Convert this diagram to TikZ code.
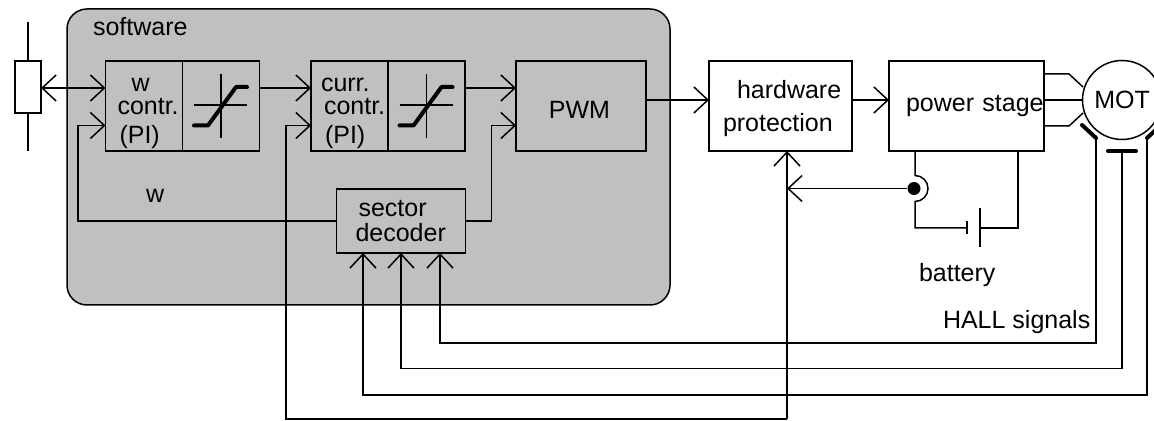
\documentclass[tikz,border=0pt]{standalone}
\usepackage{fontspec}
\setmainfont{Liberation Sans}
\usepackage{xcolor}
\usetikzlibrary{arrows.meta, positioning, calc}
\definecolor{softgrey}{RGB}{192, 192, 192}

\begin{document}
\begin{tikzpicture}[
    x=0.5pt, y=-0.5pt,
    line width=0.75pt,
    font=\fontsize{12.5}{12}\selectfont,
    box/.style={rectangle, draw, inner sep=0pt, outer sep=0pt, align=left},
    smallbox/.style={box, text width=38.5pt, minimum height=45pt},
    label/.style={inner sep=0pt, outer sep=0pt, anchor=base west},
    arrow/.style={->, >={Straight Barb[length=7pt,width=13pt]}},
    dblarrow/.style={<->, >={Straight Barb[length=7pt,width=13pt]}},
    thickbar/.style={line width=2pt, line cap=round, line join=round}
]
\useasboundingbox (0,0) rectangle (1154,421);

% Software area
\draw[fill=softgrey, rounded corners=10pt] (67,9) rectangle (670,305);
\node[label] (softlabel) at (93,36) {software};

% Potentiometer
\node[box, fill=white, minimum width=13pt, minimum height=26pt] (pot) at (28,87) {};
\coordinate (pottop) at (28,22);
\coordinate (potbot) at (28,151);
\draw (pottop) -- (pot.north);
\draw (pot.south) -- (potbot);

% Controllers
\node[smallbox] (wcontr) at (144,106) {\rule{0pt}{14pt}\hspace*{13pt}w\\[-0.5pt]\hspace*{6pt}contr.\\[2.5pt]\hspace*{7pt}(PI)};
\node[smallbox, right=0pt of wcontr] (satw) {};
\node[smallbox] (ccontr) at (349.5,106) {\rule{0pt}{14pt}\hspace*{5pt}curr.\\[-0.5pt]\hspace*{6.5pt}contr.\\[2.5pt]\hspace*{7pt}(PI)};
\node[smallbox, right=0pt of ccontr] (satc) {};
\node[box, minimum width=65pt, minimum height=45pt, align=center] (pwm) at (581,106) {\rule{0pt}{13pt}PWM\hspace*{1.5pt}};
\node[box, text width=64.5pt, minimum height=32pt] (sector) at (401,221) {\hspace*{11pt}sector\\[0.5pt]\hspace*{9.5pt}decoder};

% Saturation symbols
\foreach \sat in {satw,satc} {
    \begin{scope}[shift={(\sat.center)}]
        \draw (0,-32) -- (0,32);
        \draw (-27,-1) -- (26,-1);
        \draw[thickbar] (-27,19.5) -- (-13,19.5) -- (15,-19) -- (26,-19);
    \end{scope}
}

% Power side
\node[box, text width=71.5pt, minimum height=45pt] (hwprot) at (780.5,106) {\rule{0pt}{12pt}\hspace*{14pt}hardware\\[4.5pt]\hspace*{7pt}protection};
\node[box, text width=77.5pt, minimum height=45pt] (stage) at (966.5,106) {\hspace*{8.5pt}power stage};
\node[circle, draw, inner sep=0pt, outer sep=0pt, minimum size=39.5pt, align=center] (mot) at (1122,100) {MOT};

% Hall sensors
\coordinate (halla) at (1096,138);
\coordinate (hallb) at (1122,151);
\coordinate (hallc) at (1147,138);
\draw[thickbar] (1082,125) -- (halla);
\draw[thickbar] (1108,151) -- (1136,151);
\draw[thickbar] (hallc) -- (1161,125);

% Battery
\coordinate (batminus) at (967,228);
\coordinate (batplus) at (980,228);
\draw (967,221) -- (967,234);
\draw (980,208) -- (980,247);
\node[label] (batlabel) at (919,282) {battery};
\node[label] (halllabel) at (943,329) {HALL signals};
\node[label] (wlabel) at (146,203) {w};

% Connections
\draw[dblarrow] (pot.east |- 0,88) -- ([yshift=9pt]wcontr.west);
\draw[arrow] ([yshift=9pt]satw.east) -- ([yshift=9pt]ccontr.west);
\draw[arrow] ([yshift=9pt]satc.east) -- ([yshift=9pt]pwm.west);
\draw[arrow] (sector.west) -- ++(-258.5,0) |- ([yshift=-9.75pt]wcontr.west);
\draw[arrow] (sector.east) -- ++(26,0) |- ([yshift=-9.75pt]pwm.west);
\draw[arrow] (pwm.east) ++(0,-6) -- ([yshift=3pt]hwprot.west);
\draw[arrow] ([yshift=3pt]hwprot.east) -- ([yshift=3pt]stage.west);

% Current sense feedback
\coordinate (loopbot) at (787,419);
\draw[arrow] (loopbot) -- (787,151);
\draw[arrow] (loopbot) -| (286,125.5) -- ([yshift=-9.75pt]ccontr.west);

% Motor leads
\draw ([yshift=16pt]stage.east) -- ++(25,0) -- (1083,87);
\draw ([yshift=3pt]stage.east) -- (mot.west);
\draw ([yshift=-10pt]stage.east) -- ++(25,0) -- (1083,113);

% Supply
\node[circle, fill=black, inner sep=0pt, minimum size=6.5pt] (junction) at (914,188.5) {};
\draw[arrow] (junction) -- (787,188.5);
\draw (915,151) -- (915,175.5) arc[start angle=90, end angle=-90, radius=6.5pt] -- (915,228) -- (batminus);
\draw (batplus) -- (1018,228) -- (1018,151);

% Hall signals
\draw[arrow] (halla) |- (440,343) -- (440,253);
\draw[arrow] (hallb) |- (401,368.5) -- (401,253);
\draw[arrow] (hallc) |- (363,395) -- (363,253);

\end{tikzpicture}
\end{document}
